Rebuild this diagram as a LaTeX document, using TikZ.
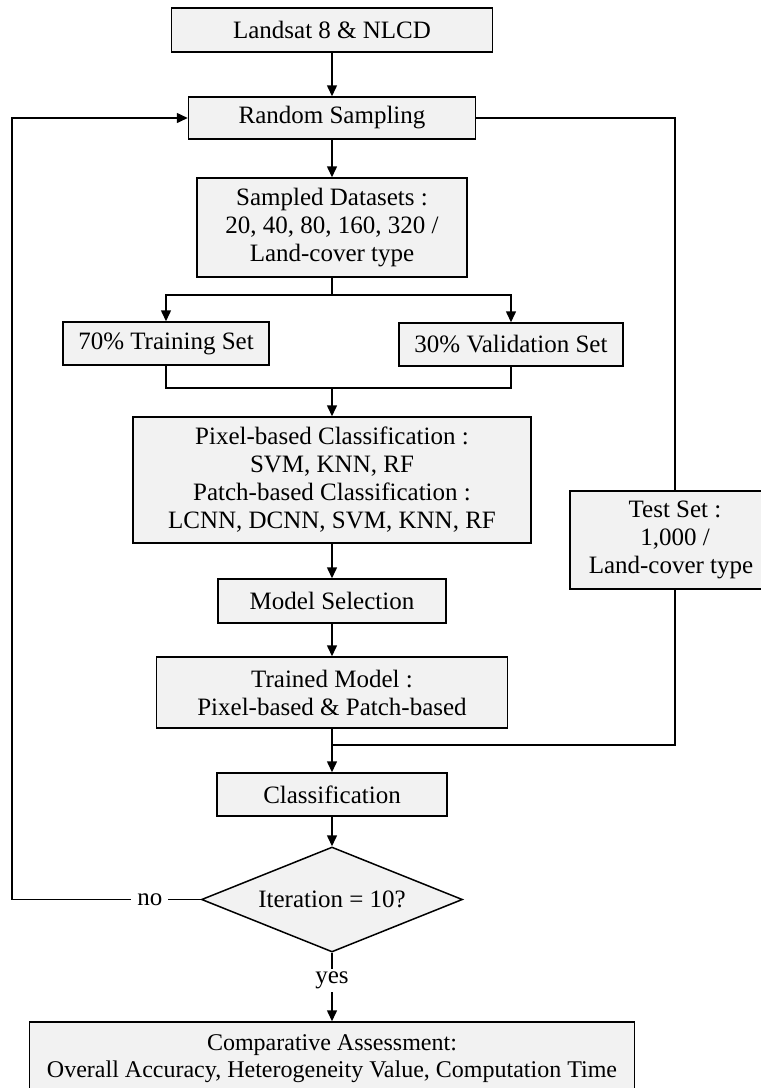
\documentclass[tikz,border=0pt]{standalone}
\usepackage{fontspec}
\setmainfont{Liberation Serif}
\usetikzlibrary{arrows.meta,shapes.geometric}
\definecolor{boxfill}{RGB}{242,242,242}
\tikzset{
  stepbox/.style={draw=black, fill=boxfill, line width=1.5pt, inner sep=0pt, align=center,
    font=\fontsize{25}{28}\selectfont},
  decision/.style={diamond, draw=black, fill=boxfill, line width=1.5pt, inner sep=0pt, aspect=2.5,
    font=\fontsize{25}{28}\selectfont},
  conn/.style={line width=1.5pt},
  arr/.style={line width=1.5pt, -{Triangle[length=11pt,width=10pt]}},
  lbl/.style={fill=white, inner xsep=6pt, inner ysep=3pt, font=\fontsize{25}{28}\selectfont}
}
\begin{document}
\begin{tikzpicture}[x=1pt,y=-1pt]
\useasboundingbox (0,0) rectangle (761,1088);
\node[stepbox, minimum width=321pt, minimum height=44pt] (landsat) at (332,30) {Landsat 8 \& NLCD};
\node[stepbox, minimum width=287pt, minimum height=42pt] (rs) at (332,118) {Random Sampling};
\node[stepbox, minimum width=270pt, minimum height=99pt] (sd) at (332,227.5) {Sampled Datasets :\\20, 40, 80, 160, 320 /\\Land-cover type};
\node[stepbox, minimum width=206pt, minimum height=43pt] (train) at (166,343.5) {70\% Training Set};
\node[stepbox, minimum width=224pt, minimum height=43pt] (valid) at (511,344.5) {30\% Validation Set};
\node[stepbox, minimum width=398pt, minimum height=126pt] (pix) at (332,480) {Pixel-based Classification :\\SVM, KNN, RF\\Patch-based Classification :\\LCNN, DCNN, SVM, KNN, RF};
\node[stepbox, minimum width=210pt, minimum height=98pt] (test) at (675,540) {Test Set :\\1,000 /\\Land-cover type\hspace*{8pt}};
\node[stepbox, minimum width=228pt, minimum height=44pt] (msel) at (332,601) {Model Selection};
\node[stepbox, minimum width=351pt, minimum height=71pt] (trained) at (332,692.5) {Trained Model :\\Pixel-based \& Patch-based};
\node[stepbox, minimum width=230pt, minimum height=43pt] (cls) at (332,794.5) {Classification};
\node[decision, minimum width=261pt, minimum height=105pt] (iter) at (332,899.5) {Iteration = 10?};
\node[stepbox, minimum width=605pt, minimum height=74pt, font=\fontsize{24}{27}\selectfont] (comp) at (332,1059) {Comparative Assessment:\\Overall Accuracy, Heterogeneity Value, Computation Time};

\coordinate (split) at (332,295);
\coordinate (merge) at (332,388);
\coordinate (join) at (332,745);
\coordinate (loopb) at (12,899.5);

\draw[arr] (landsat) -- (rs);
\draw[arr] (rs) -- (sd);
\draw[conn] (sd.south) -- (split);
\draw[arr] (split) -| (train.north);
\draw[arr] (split) -| (valid.north);
\draw[conn] (train.south) |- (merge);
\draw[conn] (valid.south) |- (merge);
\draw[arr] (merge) -- (pix.north);
\draw[arr] (pix) -- (msel);
\draw[arr] (msel) -- (trained);
\draw[conn] (rs.east) -| (test.north);
\draw[conn] (trained.south) -- (join);
\draw[conn] (test.south) |- (join);
\draw[arr] (join) -- (cls.north);
\draw[arr] (cls) -- (iter);
\draw[arr] (iter.south) -- node[lbl, pos=0.4] {yes} (comp.north);
\draw[arr] (iter.west) -- node[lbl, pos=0.27] {no} (loopb) |- (rs.west);
\end{tikzpicture}
\end{document}
